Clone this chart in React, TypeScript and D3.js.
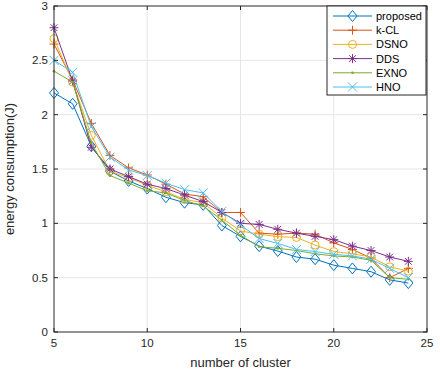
import * as d3 from "d3";

const W = 440;
const H = 376;
const M = { top: 6, right: 13, bottom: 44, left: 54 };
const IW = W - M.left - M.right;
const IH = H - M.top - M.bottom;

const clusters = [5, 6, 7, 8, 9, 10, 11, 12, 13, 14, 15, 16, 17, 18, 19, 20, 21, 22, 23, 24];

const proposed = [2.2, 2.1, 1.71, 1.48, 1.39, 1.32, 1.24, 1.19, 1.17, 0.98, 0.88, 0.79, 0.745, 0.69, 0.67, 0.615, 0.585, 0.555, 0.48, 0.45];
const kcl = [2.65, 2.32, 1.92, 1.625, 1.51, 1.445, 1.36, 1.27, 1.245, 1.1, 1.1, 0.91, 0.9, 0.91, 0.9, 0.82, 0.76, 0.68, 0.5, 0.585];
const dsno = [2.7, 2.3, 1.81, 1.48, 1.42, 1.35, 1.29, 1.22, 1.19, 1.05, 0.93, 0.9, 0.877, 0.87, 0.8, 0.74, 0.72, 0.69, 0.6, 0.56];
const dds = [2.8, 2.31, 1.7, 1.5, 1.43, 1.36, 1.32, 1.26, 1.2, 1.1, 1.0, 0.99, 0.945, 0.91, 0.88, 0.85, 0.79, 0.75, 0.69, 0.65];
const exno = [2.4, 2.3, 1.74, 1.44, 1.37, 1.3, 1.28, 1.21, 1.16, 1.03, 0.89, 0.785, 0.77, 0.75, 0.72, 0.7, 0.69, 0.66, 0.5, 0.485];
const hno = [2.5, 2.39, 1.89, 1.61, 1.49, 1.44, 1.37, 1.31, 1.28, 1.11, 0.985, 0.86, 0.815, 0.76, 0.74, 0.715, 0.7, 0.67, 0.585, 0.5];

const xTicks = [5, 10, 15, 20, 25];
const yTicks = [0, 0.5, 1, 1.5, 2, 2.5, 3];

type Marker = "diamond" | "plus" | "circle" | "star" | "dot" | "cross";

const series: { name: string; values: number[]; color: string; marker: Marker }[] = [
  { name: "proposed", values: proposed, color: "#0072BD", marker: "diamond" },
  { name: "k-CL", values: kcl, color: "#D95319", marker: "plus" },
  { name: "DSNO", values: dsno, color: "#EDB120", marker: "circle" },
  { name: "DDS", values: dds, color: "#7E2F8E", marker: "star" },
  { name: "EXNO", values: exno, color: "#77AC30", marker: "dot" },
  { name: "HNO", values: hno, color: "#4DBEEE", marker: "cross" },
];

const FONT = "'Liberation Sans', Arial, Helvetica, sans-serif";

function MarkerShape({ type, x, y, color }: { type: Marker; x: number; y: number; color: string }) {
  const s = 4.5;
  if (type === "diamond") {
    return (
      <path
        d={`M${x},${y - s - 1}L${x + s},${y}L${x},${y + s + 1}L${x - s},${y}Z`}
        fill="none"
        stroke={color}
        strokeWidth={1}
      />
    );
  }
  if (type === "circle") {
    return <circle cx={x} cy={y} r={4} fill="none" stroke={color} strokeWidth={1} />;
  }
  if (type === "dot") {
    return <circle cx={x} cy={y} r={1.3} fill={color} />;
  }
  if (type === "plus") {
    return <path d={`M${x - s},${y}H${x + s}M${x},${y - s}V${y + s}`} stroke={color} strokeWidth={1} />;
  }
  if (type === "cross") {
    return (
      <path
        d={`M${x - s},${y - s}L${x + s},${y + s}M${x - s},${y + s}L${x + s},${y - s}`}
        stroke={color}
        strokeWidth={1}
      />
    );
  }
  // star: plus + cross
  const d = s * 0.75;
  return (
    <path
      d={`M${x - s},${y}H${x + s}M${x},${y - s}V${y + s}M${x - d},${y - d}L${x + d},${y + d}M${x - d},${y + d}L${x + d},${y - d}`}
      stroke={color}
      strokeWidth={1}
    />
  );
}

export default function App() {
  const x = d3.scaleLinear().domain([5, 25]).range([0, IW]);
  const y = d3.scaleLinear().domain([0, 3]).range([IH, 0]);
  const line = d3
    .line<number>()
    .x((_, i) => x(clusters[i]))
    .y((v) => y(v));

  const axisColor = "#262626";
  const legend = { x: 327 - M.left, y: 0, w: 99, h: 89 };

  return (
    <svg width={W} height={H} style={{ position: "absolute", left: 0, top: 0, background: "#fff" }} fontFamily={FONT}>
      <rect width={W} height={H} fill="#fff" />
      <g transform={`translate(${M.left},${M.top})`}>
        {/* grid */}
        {xTicks.slice(1, -1).map((t) => (
          <line key={`gx${t}`} x1={x(t)} x2={x(t)} y1={0} y2={IH} stroke="#e6e6e6" strokeWidth={1} />
        ))}
        {yTicks.slice(1, -1).map((t) => (
          <line key={`gy${t}`} x1={0} x2={IW} y1={y(t)} y2={y(t)} stroke="#e6e6e6" strokeWidth={1} />
        ))}

        {/* series */}
        {series.map((s) => (
          <g key={s.name}>
            <path d={line(s.values) ?? ""} fill="none" stroke={s.color} strokeWidth={1} />
            {s.values.map((v, i) => (
              <MarkerShape key={i} type={s.marker} x={x(clusters[i])} y={y(v)} color={s.color} />
            ))}
          </g>
        ))}

        {/* axes box */}
        <rect x={0} y={0} width={IW} height={IH} fill="none" stroke={axisColor} strokeWidth={1} />
        {xTicks.map((t) => (
          <g key={`tx${t}`}>
            <line x1={x(t)} x2={x(t)} y1={IH} y2={IH - 4} stroke={axisColor} />
            <line x1={x(t)} x2={x(t)} y1={0} y2={4} stroke={axisColor} />
            <text x={x(t)} y={IH + 15} textAnchor="middle" fontSize={11.5} fill={axisColor}>
              {t}
            </text>
          </g>
        ))}
        {yTicks.map((t) => (
          <g key={`ty${t}`}>
            <line x1={0} x2={4} y1={y(t)} y2={y(t)} stroke={axisColor} />
            <line x1={IW} x2={IW - 4} y1={y(t)} y2={y(t)} stroke={axisColor} />
            <text x={-6} y={y(t) + 4} textAnchor="end" fontSize={11.5} fill={axisColor}>
              {t}
            </text>
          </g>
        ))}

        <text x={IW / 2} y={IH + 35} textAnchor="middle" fontSize={13} fill={axisColor}>
          number of cluster
        </text>
        <text
          transform={`translate(${-40},${IH / 2}) rotate(-90)`}
          textAnchor="middle"
          fontSize={13}
          fill={axisColor}
        >
          energy consumption(J)
        </text>

        {/* legend */}
        <g transform={`translate(${legend.x},${legend.y})`}>
          <rect width={legend.w} height={legend.h} fill="#fff" stroke={axisColor} strokeWidth={1} />
          {series.map((s, i) => {
            const ly = 10 + i * 14.2;
            return (
              <g key={s.name}>
                <line x1={6} x2={45} y1={ly} y2={ly} stroke={s.color} strokeWidth={1} />
                <MarkerShape type={s.marker} x={25.5} y={ly} color={s.color} />
                <text x={49} y={ly + 4} fontSize={11} fill="#000">
                  {s.name}
                </text>
              </g>
            );
          })}
        </g>
      </g>
    </svg>
  );
}
